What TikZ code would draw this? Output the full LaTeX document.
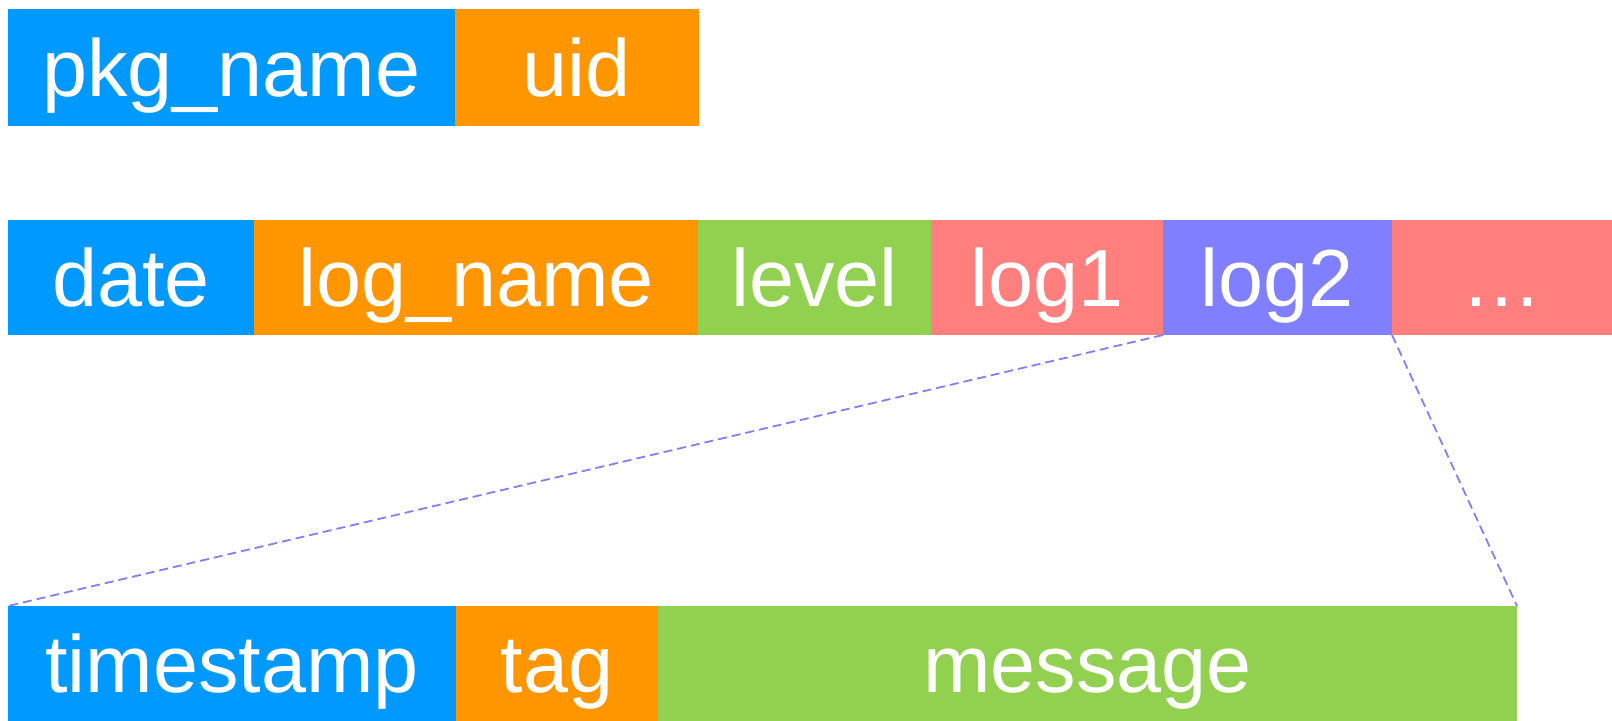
\documentclass[tikz,border=0pt]{standalone}
\usepackage{fontspec}
\setmainfont{Liberation Sans}
\usetikzlibrary{positioning}
\definecolor{fblue}{HTML}{0099FF}
\definecolor{forange}{HTML}{FF9600}
\definecolor{fgreen}{HTML}{92D050}
\definecolor{fred}{HTML}{FF7F7F}
\definecolor{fviolet}{HTML}{7F7FFF}

\begin{document}
\begin{tikzpicture}[x=0.5pt,y=-0.5pt,
    field/.style={anchor=north west,inner sep=0pt,outer sep=0pt,text=white,
      font=\fontsize{40.5}{48}\selectfont,text height=29pt,text depth=0pt},
    toprow/.style={field,minimum height=58.5pt},
    midrow/.style={field,minimum height=57.5pt},
    lowrow/.style={field,minimum height=57.5pt},
    zoomline/.style={fviolet,line width=0.9pt,dash pattern=on 4.5pt off 2.5pt}]
  \useasboundingbox (0,0) rectangle (1612,721);
  % package record
  \node[toprow,fill=fblue,minimum width=223.25pt] (pkgname) at (8,9) {pkg\_name};
  \node[toprow,fill=forange,minimum width=122.25pt,right=0pt of pkgname] (uid) {uid};
  % log line
  \node[midrow,fill=fblue,minimum width=123pt] (date) at (8,220) {date};
  \node[midrow,fill=forange,minimum width=222pt,right=0pt of date] (logname) {log\_name};
  \node[midrow,fill=fgreen,minimum width=116.5pt,right=0pt of logname] (level) {level};
  \node[midrow,fill=fred,minimum width=116pt,right=0pt of level] (logone) {log1};
  \node[midrow,fill=fviolet,minimum width=114.5pt,right=0pt of logone] (logtwo) {log2};
  \node[midrow,fill=fred,minimum width=110pt,right=0pt of logtwo] (more) {…};
  % one log entry
  \node[lowrow,fill=fblue,minimum width=224pt] (timestamp) at (8,606) {timestamp};
  \node[lowrow,fill=forange,minimum width=101pt,right=0pt of timestamp] (tag) {tag};
  \node[lowrow,fill=fgreen,minimum width=429.5pt,right=0pt of tag] (message) {message};
  \draw[zoomline] (logtwo.south west) -- (timestamp.north west);
  \draw[zoomline] (logtwo.south east) -- (message.north east);
\end{tikzpicture}
\end{document}
